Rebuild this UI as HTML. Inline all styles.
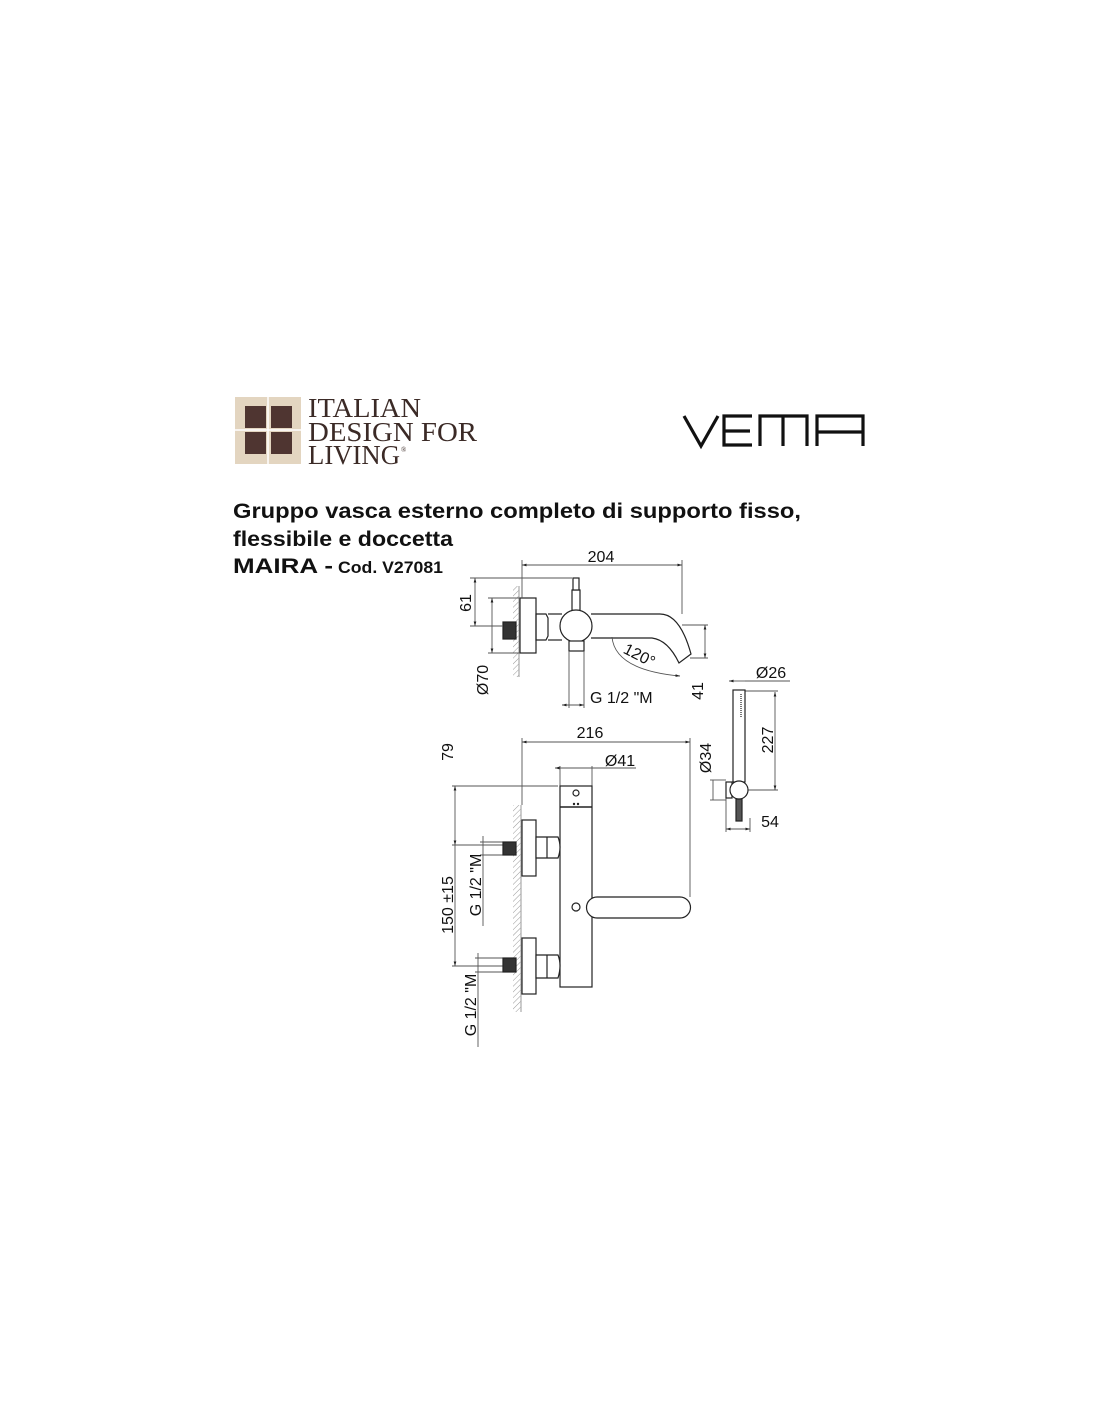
<!DOCTYPE html>
<html><head><meta charset="utf-8"><style>
html,body{margin:0;padding:0;background:#fff;}
svg{display:block}
text{font-family:"Liberation Sans",sans-serif;fill:#111}
</style></head><body>
<svg width="1100" height="1422" viewBox="0 0 1100 1422" xmlns="http://www.w3.org/2000/svg">
<defs>
<pattern id="h" width="4" height="4" patternUnits="userSpaceOnUse" patternTransform="rotate(45)"><line x1="0" y1="0" x2="0" y2="4" stroke="#999" stroke-width="1"/></pattern>
<marker id="a" viewBox="0 0 10 10" refX="10" refY="5" markerWidth="5" markerHeight="5" orient="auto-start-reverse"><path d="M0,2 L10,5 L0,8z" fill="#222"/></marker>
</defs>
<rect x="235" y="397" width="66" height="67" fill="#e3d5c0"/>
<rect x="245" y="406" width="21" height="22" fill="#4f3531"/>
<rect x="271" y="406" width="21" height="22" fill="#4f3531"/>
<rect x="245" y="432" width="21" height="22" fill="#4f3531"/>
<rect x="271" y="432" width="21" height="22" fill="#4f3531"/>
<line x1="268" y1="397" x2="268" y2="464" stroke="#fff" stroke-width="1.5"/>
<line x1="235" y1="430" x2="301" y2="430" stroke="#fff" stroke-width="1.5"/>
<g font-size="27">
<text x="308" y="417" textLength="113" lengthAdjust="spacingAndGlyphs" style="font-family:'Liberation Serif',serif;fill:#3b2a26">ITALIAN</text>
<text x="308" y="441" textLength="169" lengthAdjust="spacingAndGlyphs" style="font-family:'Liberation Serif',serif;fill:#3b2a26">DESIGN FOR</text>
<text x="308" y="464" textLength="92" lengthAdjust="spacingAndGlyphs" style="font-family:'Liberation Serif',serif;fill:#3b2a26">LIVING</text>
<text x="401" y="452" font-size="7" style="font-family:'Liberation Serif',serif;fill:#3b2a26">®</text>
</g>
<g fill="none" stroke="#111" stroke-width="3.2">
<path d="M684,416 L701,446 L718,416"/>
<path d="M752,416 L724,416 L724,445 L752,445 M724,431 L750,431"/>
<path d="M760,446 L760,416 L807,416 L807,446 M783,416 L783,446"/>
<path d="M817,446 L817,416 L863,416 L863,446 M817,432 L863,432"/>
</g>
<text x="233" y="518" font-size="21" font-weight="bold" textLength="568" lengthAdjust="spacingAndGlyphs">Gruppo vasca esterno completo di supporto fisso,</text>
<text x="233" y="546" font-size="21" font-weight="bold" textLength="220" lengthAdjust="spacingAndGlyphs">flessibile e doccetta</text>
<text x="233" y="573" font-size="21" font-weight="bold" textLength="100" lengthAdjust="spacingAndGlyphs">MAIRA -</text>
<text x="338" y="573" font-size="17" font-weight="bold" textLength="105" lengthAdjust="spacingAndGlyphs">Cod. V27081</text>

<g fill="none" stroke="#222" stroke-width="1.2">
<rect x="513" y="586" width="6" height="91" fill="url(#h)" stroke="none"/>
<line x1="519" y1="586" x2="519" y2="677" stroke="#aaa"/>
<rect x="520" y="598" width="16" height="55" fill="#fff"/>
<path d="M536,614 h10 l2,4 v18 l-2,4 h-10z"/>
<line x1="548" y1="614" x2="562" y2="614"/><line x1="548" y1="640" x2="562" y2="640"/>
<rect x="503" y="622" width="13" height="17" fill="#333"/>
<path d="M591,614 L660,614 Q680,614 691,654 L679,663 Q668,640 652,638 L591,638"/>
<rect x="572" y="590" width="8" height="22" fill="#fff"/>
<rect x="573" y="578" width="6" height="12" fill="#fff"/>
<circle cx="576" cy="626" r="16" fill="#fff"/>
<rect x="569" y="641" width="15" height="10" fill="#fff"/>
<g stroke="#555" stroke-width="0.9">
<line x1="522" y1="565" x2="682" y2="565" marker-start="url(#a)" marker-end="url(#a)"/>
<line x1="522" y1="560" x2="522" y2="598"/><line x1="682" y1="560" x2="682" y2="614"/>
<line x1="475" y1="578" x2="475" y2="626" marker-start="url(#a)" marker-end="url(#a)"/>
<line x1="470" y1="578" x2="572" y2="578"/><line x1="470" y1="626" x2="503" y2="626"/>
<line x1="492" y1="598" x2="492" y2="653" marker-start="url(#a)" marker-end="url(#a)"/>
<line x1="488" y1="598" x2="520" y2="598"/><line x1="488" y1="653" x2="520" y2="653"/>
<line x1="562" y1="705" x2="584" y2="705" marker-start="url(#a)" marker-end="url(#a)"/>
<line x1="569" y1="651" x2="569" y2="708"/><line x1="584" y1="651" x2="584" y2="708"/>
<line x1="705" y1="625" x2="705" y2="658" marker-start="url(#a)" marker-end="url(#a)"/>
<line x1="682" y1="625" x2="708" y2="625"/><line x1="690" y1="658" x2="708" y2="658"/>
<path d="M612,637 Q615,670 680,676" marker-end="url(#a)"/>
<line x1="522" y1="742" x2="690" y2="742" marker-start="url(#a)" marker-end="url(#a)"/>
<line x1="522" y1="738" x2="522" y2="805"/><line x1="690" y1="738" x2="690" y2="897"/>
<line x1="555" y1="768" x2="592" y2="768" marker-start="url(#a)"/><line x1="592" y1="768" x2="636" y2="768"/>
<line x1="560" y1="766" x2="560" y2="786"/><line x1="592" y1="766" x2="592" y2="786"/>
<line x1="455" y1="786" x2="455" y2="845" marker-start="url(#a)" marker-end="url(#a)"/>
<line x1="455" y1="845" x2="455" y2="966" marker-end="url(#a)"/>
<line x1="452" y1="786" x2="558" y2="786"/><line x1="452" y1="845" x2="503" y2="845"/><line x1="452" y1="966" x2="503" y2="966"/>
<line x1="483" y1="836" x2="483" y2="926"/><line x1="480" y1="842" x2="503" y2="842"/><line x1="480" y1="855" x2="503" y2="855"/>
<line x1="478" y1="953" x2="478" y2="1047"/><line x1="475" y1="958" x2="503" y2="958"/><line x1="475" y1="972" x2="503" y2="972"/>
</g>
<rect x="513" y="805" width="8" height="207" fill="url(#h)" stroke="none"/>
<line x1="521" y1="805" x2="521" y2="1012" stroke="#aaa"/>
<rect x="560" y="786" width="32" height="201" fill="#fff"/>
<line x1="560" y1="807" x2="592" y2="807" stroke-width="1.5"/>
<circle cx="576" cy="793" r="3"/>
<circle cx="574" cy="804" r="0.6" fill="#222"/><circle cx="578" cy="804" r="0.6" fill="#222"/>
<rect x="522" y="820" width="14" height="56" fill="#fff"/>
<path d="M536,837 h22 q4,10 0,21 h-22z" fill="#fff"/><line x1="547" y1="837" x2="547" y2="858"/>
<rect x="503" y="842" width="13" height="13" fill="#333"/>
<rect x="522" y="938" width="14" height="56" fill="#fff"/>
<path d="M536,955 h22 q4,10 0,23 h-22z" fill="#fff"/><line x1="547" y1="955" x2="547" y2="978"/>
<rect x="503" y="958" width="13" height="14" fill="#333"/>
<path d="M597,897 L680,897 A10.5,10.5 0 0 1 680,918 L597,918 A10.5,10.5 0 0 1 597,897z" fill="#fff"/>
<circle cx="576" cy="907" r="4"/>
<g stroke="#555" stroke-width="0.9">
<line x1="729" y1="681" x2="745" y2="681" marker-start="url(#a)"/><line x1="745" y1="681" x2="790" y2="681"/>
<line x1="775" y1="692" x2="775" y2="790" marker-start="url(#a)" marker-end="url(#a)"/>
<line x1="745" y1="691" x2="778" y2="691"/><line x1="748" y1="790" x2="778" y2="790"/>
<line x1="713" y1="780" x2="713" y2="800"/><line x1="710" y1="780" x2="726" y2="780"/><line x1="710" y1="800" x2="726" y2="800"/>
<line x1="726" y1="829" x2="750" y2="829" marker-start="url(#a)" marker-end="url(#a)"/>
<line x1="726" y1="798" x2="726" y2="832"/><line x1="750" y1="818" x2="750" y2="832"/>
</g>
<rect x="733" y="690" width="12" height="92" fill="#fff"/>
<line x1="741" y1="694" x2="741" y2="718" stroke="#777" stroke-dasharray="1,1" stroke-width="2"/>
<rect x="726" y="782" width="6" height="16" fill="#fff"/>
<rect x="736" y="799" width="6" height="22" fill="#555"/>
<circle cx="739" cy="790" r="9" fill="#fff"/>
</g>
<g font-size="16">
<text x="601" y="562" text-anchor="middle">204</text>
<text transform="translate(471,603) rotate(-90)" text-anchor="middle">61</text>
<text transform="translate(488,680) rotate(-90)" text-anchor="middle">Ø70</text>
<text x="590" y="703">G 1/2 "M</text>
<text transform="translate(703,691) rotate(-90)" text-anchor="middle">41</text>
<text transform="translate(637,660) rotate(27)" text-anchor="middle">120°</text>
<text x="771" y="678" text-anchor="middle">Ø26</text>
<text transform="translate(773,740) rotate(-90)" text-anchor="middle">227</text>
<text transform="translate(711,758) rotate(-90)" text-anchor="middle">Ø34</text>
<text x="770" y="827" text-anchor="middle">54</text>
<text x="590" y="738" text-anchor="middle">216</text>
<text x="620" y="766" text-anchor="middle">Ø41</text>
<text transform="translate(453,752) rotate(-90)" text-anchor="middle">79</text>
<text transform="translate(453,905) rotate(-90)" text-anchor="middle">150 ±15</text>
<text transform="translate(481,885) rotate(-90)" text-anchor="middle">G 1/2 "M</text>
<text transform="translate(476,1005) rotate(-90)" text-anchor="middle">G 1/2 "M</text>
</g>
</svg>
</body></html>
